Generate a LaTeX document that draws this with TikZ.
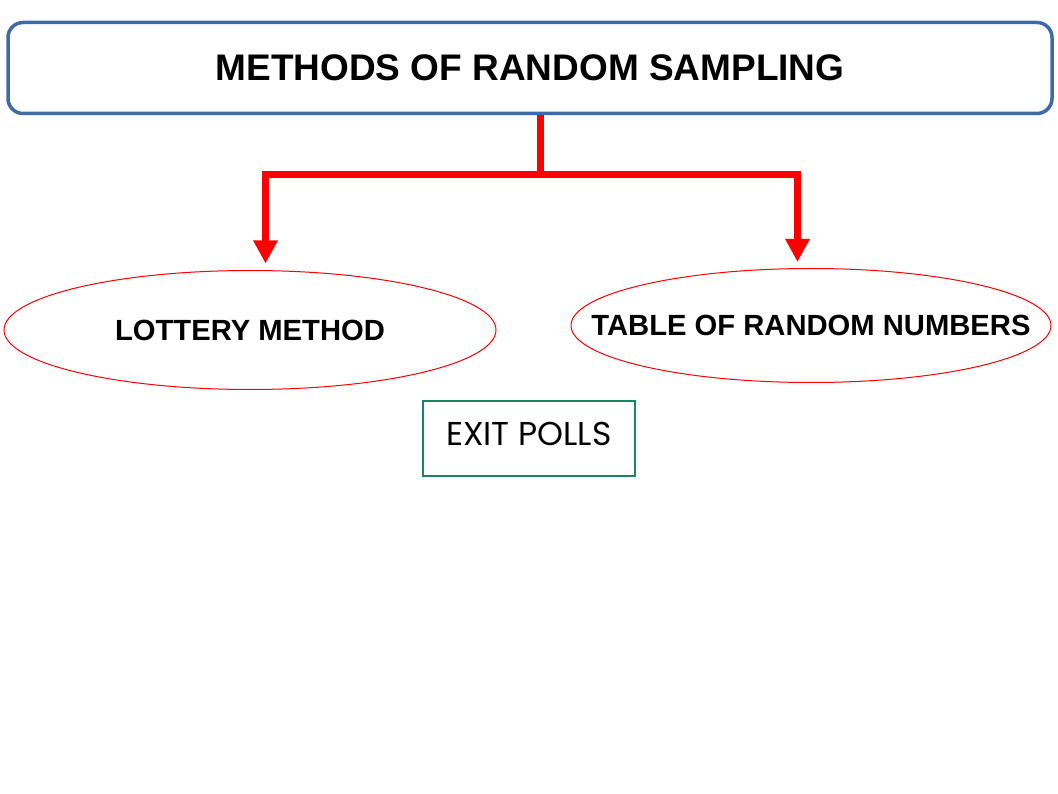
\documentclass[tikz,border=0pt]{standalone}
\usepackage{fontspec}
\setmainfont{Liberation Sans}
\newfontfamily\pollfont{Poppins}
\usetikzlibrary{arrows.meta,calc,positioning,shapes.geometric}
\definecolor{titleblue}{HTML}{3D6AAB}
\definecolor{pollgreen}{HTML}{1B8463}

\begin{document}
\begin{tikzpicture}[x=1pt,y=-1pt,>={Triangle[width=23pt,length=23pt]}]
	\tikzstyle{titlebox} = [draw=titleblue, line width=3.5pt, rounded corners=15pt, rectangle, minimum width=1044pt, minimum height=91pt, font=\bfseries\fontsize{37}{44}\selectfont]
	\tikzstyle{method} = [draw=red, line width=1pt, ellipse, inner xsep=-60pt, inner ysep=0pt, font=\bfseries\fontsize{29.2}{35}\selectfont]
	\tikzstyle{pollbox} = [draw=pollgreen, line width=1.2pt, rectangle, minimum width=212pt, minimum height=75pt, text depth=9pt, font=\pollfont\fontsize{33}{38}\selectfont]
	\tikzstyle{branch} = [draw=red, line width=7.5pt]
	\useasboundingbox (0,0) rectangle (1058,794);
	
	\node [titlebox] (title) at (530,68) {METHODS OF RANDOM SAMPLING};
	
	\node [method, minimum width=492pt, minimum height=119pt] (lottery) at (250,330) {LOTTERY METHOD};
	
	\node [method, minimum width=480pt, minimum height=114pt] (table) at (811,325.5) {TABLE OF RANDOM NUMBERS};
	
	\node [pollbox] (exit) at (529,438.5) {EXIT POLLS};
	
	\coordinate (split) at (540.5,174.5);
	\coordinate (c1) at (265.5,263.5);
	\coordinate (c2) at (797.5,262);
	
	\draw [branch] (title.south -| split) -- (split);
	\draw [branch,->] (split) -| (c1);
	\draw [branch,->] (split) -| (c2);
\end{tikzpicture}
\end{document}
